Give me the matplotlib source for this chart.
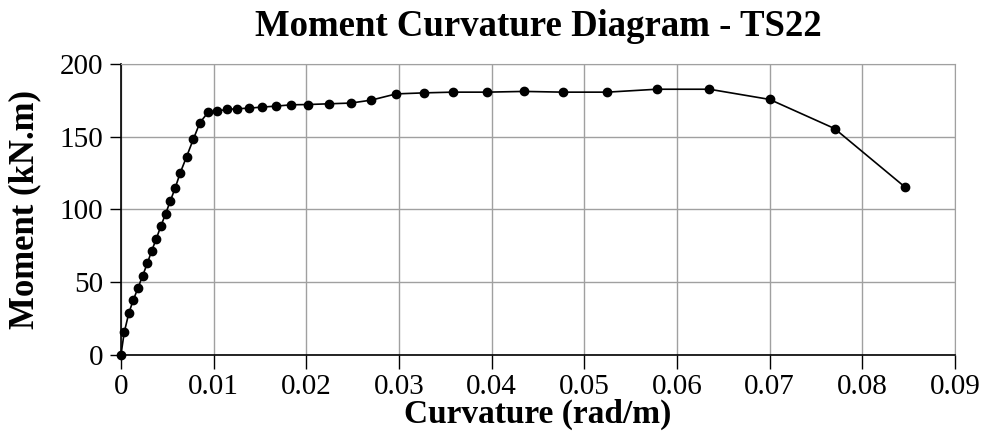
import matplotlib.pyplot as plt

# moment-curvature response, section TS22
curvature = [0.0, 0.00036, 0.00086, 0.00133, 0.00183, 0.00234, 0.00284, 0.00331,
             0.00381, 0.00431, 0.00482, 0.00532, 0.00586, 0.0064, 0.00708, 0.0078,
             0.00852, 0.00942, 0.01036, 0.0114, 0.01255, 0.01381, 0.01517, 0.01676,
             0.01837, 0.0202, 0.0225, 0.0248, 0.027, 0.0297, 0.0327, 0.0358,
             0.0395, 0.0435, 0.0477, 0.0525, 0.0578, 0.0635, 0.070, 0.077, 0.0846]
moment = [0.0, 15.6, 28.9, 37.6, 45.8, 54.3, 62.8, 71.3,
          79.7, 88.5, 96.9, 105.6, 114.8, 125.1, 136.1, 148.0,
          159.5, 166.8, 167.5, 168.6, 169.1, 169.5, 170.2, 170.9,
          171.8, 172.0, 172.5, 173.0, 175.0, 179.3, 180.0, 180.5,
          180.5, 181.0, 180.5, 180.5, 182.5, 182.5, 175.5, 155.5, 115.3]

xticks = [0, 0.01, 0.02, 0.03, 0.04, 0.05, 0.06, 0.07, 0.08, 0.09]
xticklabels = ['0', '0.01', '0.02', '0.03', '0.04', '0.05', '0.06', '0.07', '0.08', '0.09']
yticks = [0, 50, 100, 150, 200]

plt.rcParams['font.family'] = ['Liberation Serif', 'DejaVu Serif']

fig = plt.figure(figsize=(9.89, 4.38), dpi=100)
ax = fig.add_axes([0.1223, 0.190, 0.8433, 0.6644])

ax.plot(curvature, moment, color='black', linewidth=1.2, marker='o',
        markersize=6, zorder=3, clip_on=False)

ax.set_xlim(0, 0.09)
ax.set_ylim(0, 200)
ax.set_xticks(xticks)
ax.set_xticklabels(xticklabels)
ax.set_yticks(yticks)
ax.grid(True, color='#a0a0a0', linewidth=1.0)
ax.set_axisbelow(True)

for side in ['top', 'right']:
    ax.spines[side].set_color('#a0a0a0')
for side in ['left', 'bottom']:
    ax.spines[side].set_color('black')
    ax.spines[side].set_linewidth(1.2)

ax.tick_params(axis='x', direction='out', length=10, width=1, labelsize=21, pad=4)
ax.tick_params(axis='y', direction='out', length=8, width=1, labelsize=21, pad=5)

ax.set_title('Moment Curvature Diagram - TS22', fontsize=26.5, fontweight='bold', pad=20)
ax.set_xlabel('Curvature (rad/m)', fontsize=24, fontweight='bold', labelpad=-1)
ax.set_ylabel('Moment (kN.m)', fontsize=25, fontweight='bold', labelpad=13)

fig.savefig('out.png', dpi=100)
